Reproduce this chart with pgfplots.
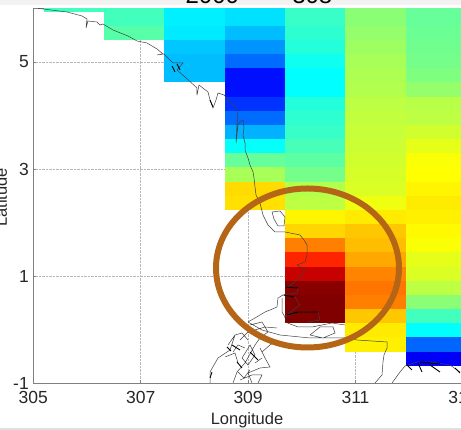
\documentclass[border=0pt]{standalone}
\usepackage{pgfplots}
\usepackage{fontspec}
\setmainfont{Liberation Sans}
\pgfplotsset{compat=1.18}
\pgfkeys{/pgfplots/table/px/.style={x expr=305+(\thisrowno{0}-33.3)/53.7, y expr=-1+(383-\thisrowno{1})/53.5}}
\pgfplotsset{cell/.style={surf,shader=flat corner,mesh/cols=2,point meta=explicit,forget plot}}
\begin{document}
\begin{tikzpicture}
\useasboundingbox (-33.3pt,-47pt) rectangle (427.7pt,383pt);
\clip (-33.3pt,-47pt) rectangle (427.7pt,383pt);
\fill[black!5] (-33.3pt,378pt) rectangle (427.7pt,383pt);
\fill[black!12] (-33.3pt,-47pt) rectangle (427.7pt,-45.5pt);
\begin{axis}[
  at={(0pt,0pt)},anchor=south west,x=53.7pt,y=53.5pt,
  xmin=305,xmax=313,ymin=-1,ymax=6,
  xtick={305,307,309,311,313},ytick={-1,1,3,5},
  grid=major,
  grid style={densely dotted,black!28,line width=0.7pt},
  axis line style={black!50,line width=0.8pt},
  tick style={black!50,line width=0.5pt},
  tick align=inside,major tick length=3pt,
  ticklabel style={font=\fontsize{17.5}{19}\selectfont,/pgf/number format/assume math mode=true,/pgf/number format/1000 sep={},text=black!85},
  xticklabel style={yshift=-5pt},
  yticklabel style={xshift=-1pt},
  colormap/jet,point meta min=0,point meta max=1,
  unbounded coords=jump,
]
\addplot[cell] coordinates {
(305.199,5.9585)[.44] (306.322,5.9585)[.44]
(305.199,6.2234)[.44] (306.322,6.2234)[.44]
};
\addplot[cell] coordinates {
(306.322,5.4287)[.46] (307.445,5.4287)[.46]
(306.322,5.6936)[.44] (307.445,5.6936)[.44]
(306.322,5.9585)[.44] (307.445,5.9585)[.44]
(306.322,6.2234)[.44] (307.445,6.2234)[.44]
};
\addplot[cell] coordinates {
(307.445,4.634)[.31] (308.568,4.634)[.31]
(307.445,4.8989)[.31] (308.568,4.8989)[.31]
(307.445,5.1638)[.32] (308.568,5.1638)[.32]
(307.445,5.4287)[.355] (308.568,5.4287)[.355]
(307.445,5.6936)[.36] (308.568,5.6936)[.36]
(307.445,5.9585)[.36] (308.568,5.9585)[.36]
(307.445,6.2234)[.36] (308.568,6.2234)[.36]
};
\addplot[cell] coordinates {
(308.568,2.2499)[.655] (309.691,2.2499)[.655]
(308.568,2.5148)[.66] (309.691,2.5148)[.66]
(308.568,2.7797)[.54] (309.691,2.7797)[.54]
(308.568,3.0446)[.475] (309.691,3.0446)[.475]
(308.568,3.3095)[.38] (309.691,3.3095)[.38]
(308.568,3.5744)[.30] (309.691,3.5744)[.30]
(308.568,3.8393)[.23] (309.691,3.8393)[.23]
(308.568,4.1042)[.175] (309.691,4.1042)[.175]
(308.568,4.3691)[.14] (309.691,4.3691)[.14]
(308.568,4.634)[.14] (309.691,4.634)[.14]
(308.568,4.8989)[.23] (309.691,4.8989)[.23]
(308.568,5.1638)[.27] (309.691,5.1638)[.27]
(308.568,5.4287)[.31] (309.691,5.4287)[.31]
(308.568,5.6936)[.345] (309.691,5.6936)[.345]
(308.568,5.9585)[.345] (309.691,5.9585)[.345]
(308.568,6.2234)[.345] (309.691,6.2234)[.345]
};
\addplot[cell] coordinates {
(309.691,.1307)[1] (310.814,.1307)[1]
(309.691,.3956)[1] (310.814,.3956)[1]
(309.691,.6605)[.99] (310.814,.6605)[.99]
(309.691,.9254)[.93] (310.814,.9254)[.93]
(309.691,1.1903)[.84] (310.814,1.1903)[.84]
(309.691,1.4552)[.75] (310.814,1.4552)[.75]
(309.691,1.7201)[.665] (310.814,1.7201)[.665]
(309.691,1.985)[.635] (310.814,1.985)[.635]
(309.691,2.2499)[.56] (310.814,2.2499)[.56]
(309.691,2.5148)[.55] (310.814,2.5148)[.55]
(309.691,2.7797)[.49] (310.814,2.7797)[.49]
(309.691,3.0446)[.465] (310.814,3.0446)[.465]
(309.691,3.3095)[.445] (310.814,3.3095)[.445]
(309.691,3.5744)[.43] (310.814,3.5744)[.43]
(309.691,3.8393)[.42] (310.814,3.8393)[.42]
(309.691,4.1042)[.41] (310.814,4.1042)[.41]
(309.691,4.3691)[.375] (310.814,4.3691)[.375]
(309.691,4.634)[.375] (310.814,4.634)[.375]
(309.691,4.8989)[.39] (310.814,4.8989)[.39]
(309.691,5.1638)[.41] (310.814,5.1638)[.41]
(309.691,5.4287)[.42] (310.814,5.4287)[.42]
(309.691,5.6936)[.43] (310.814,5.6936)[.43]
(309.691,5.9585)[.43] (310.814,5.9585)[.43]
(309.691,6.2234)[.43] (310.814,6.2234)[.43]
};
\addplot[cell] coordinates {
(310.814,-.3991)[.64] (311.937,-.3991)[.64]
(310.814,-.1342)[.645] (311.937,-.1342)[.645]
(310.814,.1307)[.68] (311.937,.1307)[.68]
(310.814,.3956)[.75] (311.937,.3956)[.75]
(310.814,.6605)[.76] (311.937,.6605)[.76]
(310.814,.9254)[.745] (311.937,.9254)[.745]
(310.814,1.1903)[.71] (311.937,1.1903)[.71]
(310.814,1.4552)[.69] (311.937,1.4552)[.69]
(310.814,1.7201)[.68] (311.937,1.7201)[.68]
(310.814,1.985)[.645] (311.937,1.985)[.645]
(310.814,2.2499)[.61] (311.937,2.2499)[.61]
(310.814,2.5148)[.59] (311.937,2.5148)[.59]
(310.814,2.7797)[.585] (311.937,2.7797)[.585]
(310.814,3.0446)[.58] (311.937,3.0446)[.58]
(310.814,3.3095)[.575] (311.937,3.3095)[.575]
(310.814,3.5744)[.57] (311.937,3.5744)[.57]
(310.814,3.8393)[.565] (311.937,3.8393)[.565]
(310.814,4.1042)[.56] (311.937,4.1042)[.56]
(310.814,4.3691)[.55] (311.937,4.3691)[.55]
(310.814,4.634)[.545] (311.937,4.634)[.545]
(310.814,4.8989)[.54] (311.937,4.8989)[.54]
(310.814,5.1638)[.53] (311.937,5.1638)[.53]
(310.814,5.4287)[.52] (311.937,5.4287)[.52]
(310.814,5.6936)[.51] (311.937,5.6936)[.51]
(310.814,5.9585)[.51] (311.937,5.9585)[.51]
(310.814,6.2234)[.51] (311.937,6.2234)[.51]
};
\addplot[cell] coordinates {
(311.937,-.664)[.12] (313.06,-.664)[.12]
(311.937,-.3991)[.225] (313.06,-.3991)[.225]
(311.937,-.1342)[.375] (313.06,-.1342)[.375]
(311.937,.1307)[.44] (313.06,.1307)[.44]
(311.937,.3956)[.51] (313.06,.3956)[.51]
(311.937,.6605)[.56] (313.06,.6605)[.56]
(311.937,.9254)[.59] (313.06,.9254)[.59]
(311.937,1.1903)[.60] (313.06,1.1903)[.60]
(311.937,1.4552)[.62] (313.06,1.4552)[.62]
(311.937,1.7201)[.63] (313.06,1.7201)[.63]
(311.937,1.985)[.64] (313.06,1.985)[.64]
(311.937,2.2499)[.645] (313.06,2.2499)[.645]
(311.937,2.5148)[.635] (313.06,2.5148)[.635]
(311.937,2.7797)[.625] (313.06,2.7797)[.625]
(311.937,3.0446)[.62] (313.06,3.0446)[.62]
(311.937,3.3095)[.60] (313.06,3.3095)[.60]
(311.937,3.5744)[.58] (313.06,3.5744)[.58]
(311.937,3.8393)[.56] (313.06,3.8393)[.56]
(311.937,4.1042)[.555] (313.06,4.1042)[.555]
(311.937,4.3691)[.52] (313.06,4.3691)[.52]
(311.937,4.634)[.50] (313.06,4.634)[.50]
(311.937,4.8989)[.49] (313.06,4.8989)[.49]
(311.937,5.1638)[.485] (313.06,5.1638)[.485]
(311.937,5.4287)[.48] (313.06,5.4287)[.48]
(311.937,5.6936)[.475] (313.06,5.6936)[.475]
(311.937,5.9585)[.475] (313.06,5.9585)[.475]
(311.937,6.2234)[.475] (313.06,6.2234)[.475]
};
% coastline, in picture pixels
\addplot[black!75,line width=0.5pt,forget plot] table[px] {
x y
38 8.5
43 9
67 12
82 16
87 19
86 28
88 21
97 22
100 25
103 24
113 30
128 36
137 41
147 43
157 49
163 54
157 55
164 54
167 57
173 63
183 63
177 70
185 77
197 88
197 95
199 85
208 92
210 100
213 108
216 100
218 93
224 95
238 110
237 125
236 143
238 125
240 122
243 120
244 128
243 135
245 143
245 150
248 158
250 165
253 172
254 178
255 187
256 195
260 203
263 215
268 225
275 232
285 232
300 235
304 240
307 245
307 255
305 262
297 265
305 270
298 280
287 287
298 288
297 293
283 295
295 297
300 305
293 310
285 317
298 312
318 312
320 320
308 322
nan nan
283 295
278 298
277 307
270 310
265 312
255 318
248 322
nan nan
282 298
282 312
285 317
nan nan
272 212
280 211
285 217
284 226
278 226
274 219
272 212
nan nan
285 322
298 327
312 327
332 323
345 325
nan nan
310 335
320 327
333 327
335 333
323 338
310 335
nan nan
248 322
262 330
280 335
310 338
345 338
357 340
372 341
387 342
387 348
384 355
383 362
382 375
375 383
nan nan
392 383
400 372
405 366
417 362
430 362
450 365
460 372
nan nan
210 383
210 372
218 358
230 350
235 335
242 333
248 340
nan nan
233 383
237 372
245 363
255 345
260 338
268 332
nan nan
247 350
242 358
248 365
255 355
250 345
247 350
nan nan
252 383
248 373
260 368
270 367
265 358
260 348
nan nan
225 357
235 353
238 363
nan nan
240 380
252 375
262 375
258 383
nan nan
228 345
235 335
nan nan
255 330
265 327
277 328
nan nan
240 340
248 332
262 340
nan nan
238 372
244 378
250 370
nan nan
245 348
238 345
233 352
nan nan
262 352
270 345
278 340
nan nan
268 332
262 322
250 325
nan nan
255 363
262 358
nan nan
};
% darker shoreline fragments
\addplot[black,line width=0.9pt,forget plot] table[px] {
x y
177 64
180 70
nan nan
172 66
175 72
nan nan
210 100
213 107
nan nan
286 287
298 288
nan nan
284 295
294 297
nan nan
287 315
298 312
318 312
nan nan
407 365
412 370
nan nan
418 363
422 372
nan nan
430 365
440 372
nan nan
455 368
460 373
nan nan
420 362
440 364
nan nan
237 362
242 368
nan nan
232 345
240 350
nan nan
250 352
258 360
nan nan
210 378
212 372
nan nan
227 347
231 351
nan nan
};
\end{axis}
\begin{scope}[x=1pt,y=1pt]
\draw[color={rgb,255:red,181;green,101;blue,22},line width=6pt] (274.2,115) ellipse [x radius=91.5,y radius=79.5];
\node[font=\fontsize{16.5}{18}\selectfont,text=black!85,anchor=base] at (213.7,-42) {Longitude};
\node[font=\fontsize{16.5}{18}\selectfont,text=black!85,anchor=base,rotate=90] at (-26.3,185.5) {Latitude};
\node[font=\fontsize{24}{26}\selectfont,anchor=base] at (179,379) {2000};
\node[font=\fontsize{24}{26}\selectfont,anchor=base] at (279,379) {308};
\end{scope}
\end{tikzpicture}
\end{document}
